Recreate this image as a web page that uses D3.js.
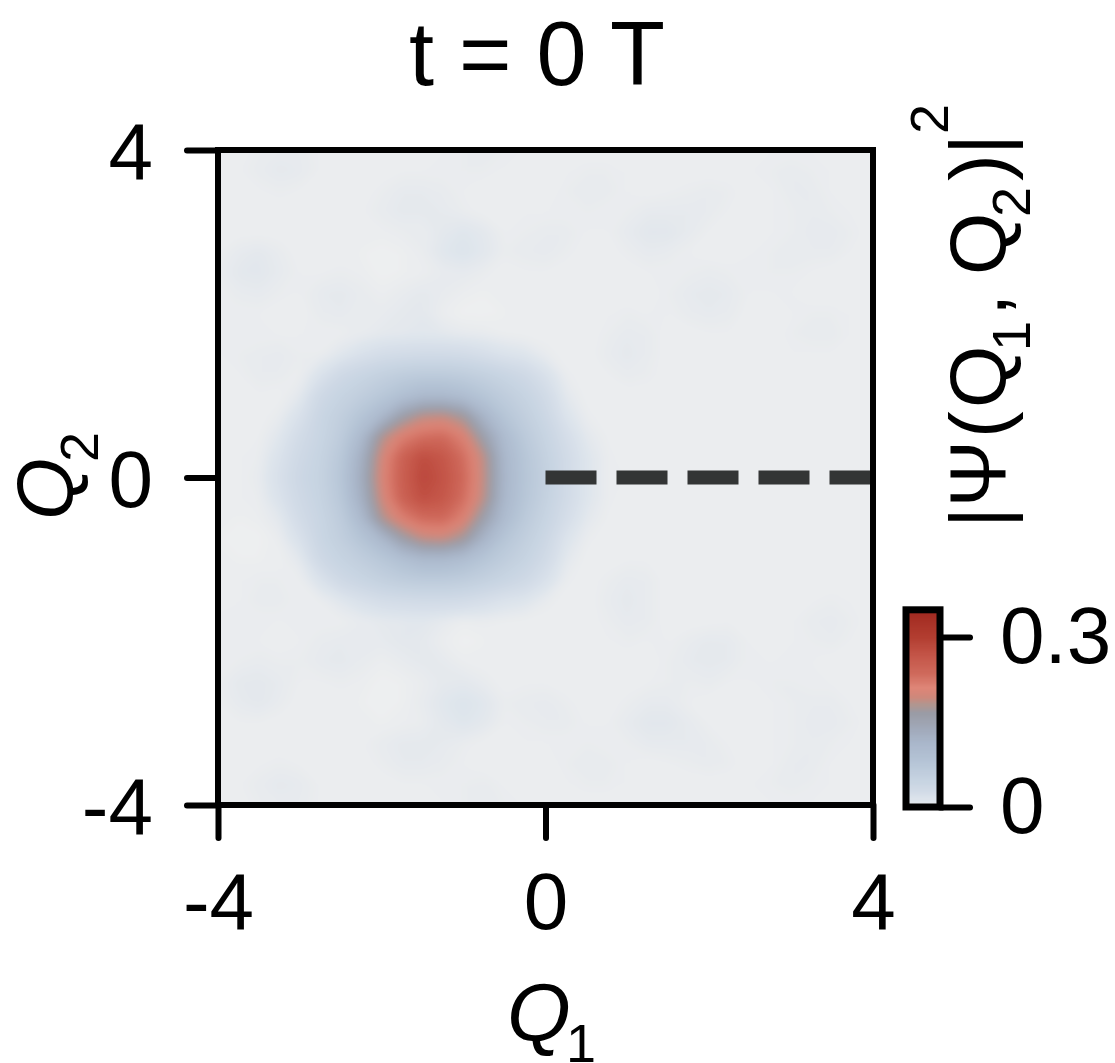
<!DOCTYPE html>
<html>
<head>
<meta charset="utf-8">
<script src="https://cdn.jsdelivr.net/npm/d3@7"></script>
<style>
  html, body { margin: 0; background: #fff; }
  text { font-family: "Liberation Sans", Arial, sans-serif; fill: #000; }
</style>
</head>
<body>
<div id="chart-container"></div>
<script>
const titleText = "t = 0 T";
const xTicks = [-4, 0, 4];
const yTicks = [-4, 0, 4];
const tickLabels = {"-4": "-4", "0": "0", "4": "4"};
const colorTicks = [0, 300];
const colorTickLabels = ["0", "0.3"];
const dashedLine = [[0, 0], [4, 0]];

// |psi|^2 x 1000, Q2 = 4 (top) down to -4, Q1 = -4 to 4, step 0.25
const density = [
  [2,2,4,5,5,3,2,2,2,2,2,3,4,5,4,3,2,2,2,2,2,2,2,2,2,2,2,3,3,3,2,2,2],
  [2,3,5,7,6,3,2,2,2,3,3,3,4,4,3,2,2,3,4,4,3,2,2,2,2,2,3,4,5,4,3,2,2],
  [2,2,3,4,3,2,2,2,4,6,6,5,3,2,2,2,2,4,5,5,3,2,3,4,5,4,2,3,5,5,3,2,2],
  [2,2,2,2,2,2,2,3,5,7,7,6,4,2,2,3,3,3,4,3,4,6,6,6,5,3,2,3,4,5,4,3,2],
  [2,2,2,2,2,2,2,2,3,4,4,8,11,8,3,4,5,5,3,3,6,9,9,6,3,2,2,3,4,6,6,4,2],
  [3,6,8,5,2,2,2,2,1,2,4,10,13,9,4,5,6,4,2,2,4,6,5,3,2,2,3,4,4,5,5,3,2],
  [4,8,9,6,3,3,4,3,1,2,3,5,6,4,2,3,3,2,2,2,2,3,3,4,5,4,3,4,4,3,2,2,2],
  [3,5,6,4,3,6,7,5,3,5,7,5,3,2,2,2,2,2,2,2,2,2,4,6,7,6,3,3,3,2,2,2,2],
  [3,3,3,2,2,5,6,4,5,7,8,3,1,1,2,2,2,2,2,3,4,3,3,5,6,5,2,2,3,4,4,3,2],
  [4,3,3,3,3,3,3,5,7,8,9,8,6,5,3,2,2,2,2,4,6,5,2,2,3,3,2,2,4,5,5,3,2],
  [3,4,5,6,4,4,10,18,25,28,30,30,28,22,15,12,5,2,2,5,7,5,2,2,2,2,2,2,3,3,3,2,2],
  [2,3,5,5,3,16,34,44,54,62,66,66,62,54,44,34,18,4,2,3,5,4,2,2,2,2,2,2,2,2,2,2,2],
  [2,2,3,2,8,34,48,60,74,90,105,105,95,78,62,48,30,8,2,2,2,2,2,2,2,2,2,2,2,2,2,2,2],
  [2,2,2,5,18,42,58,80,108,158,186,190,170,115,78,58,38,14,4,2,2,2,2,2,2,2,2,2,2,2,2,2,2],
  [2,2,3,10,28,44,64,104,178,215,232,236,212,155,100,68,46,24,8,3,2,2,2,2,2,2,2,2,2,2,2,2,2],
  [2,3,4,16,34,48,72,125,200,248,278,265,232,186,110,76,52,30,12,4,2,2,2,2,2,2,2,2,2,2,2,2,2],
  [2,3,5,20,38,50,76,132,205,252,285,270,238,188,113,78,55,30,12,4,3,2,2,2,2,2,2,2,2,2,2,2,2],
  [2,3,4,16,34,48,72,125,198,248,276,265,232,185,110,76,52,30,12,4,2,2,2,2,2,2,2,2,2,2,2,2,2],
  [2,2,3,8,28,44,64,104,178,215,236,238,212,155,100,68,46,24,8,3,2,2,2,2,2,2,2,2,2,2,2,2,2],
  [2,1,1,4,18,42,58,80,108,158,188,192,170,115,78,58,38,14,4,2,2,2,2,2,2,2,2,2,2,2,2,2,2],
  [2,2,2,2,8,34,48,60,74,90,105,105,95,78,62,48,30,8,2,2,3,3,2,2,2,2,2,2,2,2,2,2,2],
  [2,3,4,4,3,16,34,44,54,62,66,66,62,54,44,34,18,4,2,4,6,5,2,2,2,2,2,2,2,2,2,2,2],
  [2,3,5,5,3,4,10,18,25,28,30,30,28,22,15,12,5,2,2,5,7,5,2,2,2,2,2,2,2,3,4,3,2],
  [4,3,3,3,3,3,3,5,7,8,9,6,3,4,3,2,2,2,2,4,6,5,2,2,2,3,2,2,3,5,6,4,2],
  [3,3,3,2,3,5,6,5,6,8,7,3,1,2,2,2,2,2,2,3,4,3,3,5,7,6,3,2,3,4,5,3,2],
  [3,4,5,4,4,6,7,5,3,5,7,6,3,2,2,2,2,2,2,2,2,2,4,6,7,6,3,3,3,3,2,2,2],
  [4,7,8,6,3,3,4,3,1,2,4,7,8,5,2,3,3,2,2,2,2,3,4,4,5,3,3,4,4,3,3,2,2],
  [3,6,8,5,2,2,2,2,1,2,5,10,13,10,4,5,6,4,2,2,4,6,6,3,2,2,2,3,4,5,5,3,2],
  [2,3,3,2,2,2,2,2,2,3,4,8,11,8,3,4,5,5,3,3,6,9,9,6,3,2,2,3,4,6,6,4,2],
  [2,2,2,2,2,2,2,3,5,7,7,6,4,2,2,3,3,3,4,3,4,6,6,6,5,3,2,3,4,5,4,3,2],
  [2,2,3,4,3,2,2,2,4,6,6,5,3,2,2,2,2,4,5,5,3,2,3,4,5,4,2,3,5,5,3,2,2],
  [2,3,5,7,6,3,2,2,2,3,3,3,4,5,3,2,2,3,4,4,3,2,2,2,2,2,3,4,5,4,3,2,2],
  [2,2,4,5,5,3,2,2,2,2,2,3,4,5,4,3,2,2,2,2,2,2,2,2,2,2,2,3,3,3,2,2,2]
];

const colorStops = [0, 1, 2, 6, 12, 30, 48, 80, 114, 140, 165, 180, 195, 210, 235, 264, 300, 348];
const colorValues = ["#eef0f1", "#edeff0", "#ebedef", "#e5e9ed", "#dde4ec", "#d0dae6", "#c6d3e1", "#b5c4d6", "#a9b6ca", "#a0a8b8", "#9a9ba5",
  "#b09690", "#d0877a", "#de8577", "#cf6a5c", "#c5574a", "#b23d30", "#a0281f"];

const svg = d3.select("#chart-container").append("svg")
  .attr("width", 1115)
  .attr("height", 1063);

const x = d3.scaleLinear().domain([-4, 4]).range([218, 873]);
const y = d3.scaleLinear().domain([-4, 4]).range([805, 150]);
const color = d3.scaleLinear().domain(colorStops).range(colorValues).clamp(true);

const defs = svg.append("defs");
defs.append("clipPath").attr("id", "plot-clip").append("rect")
  .attr("x", x(-4)).attr("y", y(4))
  .attr("width", x(4) - x(-4)).attr("height", y(-4) - y(4));
defs.append("filter").attr("id", "soften")
  .attr("x", "-5%").attr("y", "-5%").attr("width", "110%").attr("height", "110%")
  .append("feGaussianBlur").attr("stdDeviation", 4);

// heat map as stacked filled contours
const nCols = density[0].length, nRows = density.length;
const levels = d3.range(1, 30, 1).concat(d3.range(30, 340, 2));
const contours = d3.contours().size([nCols, nRows]).thresholds(levels)(density.flat());
const step = 8 / (nCols - 1);
const toPlot = d3.geoTransform({
  point(cx, cy) {
    this.stream.point(x(-4 + (cx - 0.5) * step), y(4 - (cy - 0.5) * step));
  }
});
const path = d3.geoPath(toPlot);

const plot = svg.append("g").attr("clip-path", "url(#plot-clip)");
plot.append("rect")
  .attr("x", x(-4)).attr("y", y(4))
  .attr("width", x(4) - x(-4)).attr("height", y(-4) - y(4))
  .attr("fill", color(1));
plot.append("g").attr("filter", "url(#soften)")
  .selectAll("path")
  .data(contours)
  .join("path")
    .attr("d", path)
    .attr("fill", d => color(d.value));

svg.append("path")
  .attr("d", d3.line().x(d => x(d[0])).y(d => y(d[1]))(dashedLine))
  .attr("fill", "none")
  .attr("stroke", "#333535")
  .attr("stroke-width", 14)
  .attr("stroke-dasharray", "51 20");

// frame
svg.append("rect")
  .attr("x", x(-4)).attr("y", y(4))
  .attr("width", x(4) - x(-4)).attr("height", y(-4) - y(4))
  .attr("fill", "none")
  .attr("stroke", "#000")
  .attr("stroke-width", 6);

const fmt = d => tickLabels[d];
const xAxis = svg.append("g")
  .attr("transform", `translate(0,${y(-4)})`)
  .call(d3.axisBottom(x).tickValues(xTicks).tickFormat(fmt).tickSize(33).tickPadding(34));
const yAxis = svg.append("g")
  .attr("transform", `translate(${x(-4)},0)`)
  .call(d3.axisLeft(y).tickValues(yTicks).tickFormat(fmt).tickSize(31).tickPadding(34));

[xAxis, yAxis].forEach(a => {
  a.select(".domain").remove();
  a.selectAll(".tick line").attr("stroke", "#000").attr("stroke-width", 6).attr("stroke-linecap", "round");
  a.selectAll(".tick text").style("font-family", '"Liberation Sans", Arial, sans-serif').style("font-size", "80px").attr("fill", "#000");
});
yAxis.selectAll(".tick text").attr("dy", "0.36em");

svg.append("text")
  .attr("x", 537).attr("y", 85)
  .attr("text-anchor", "middle")
  .style("font-size", "90px")
  .text(titleText);

// axis names
const xName = svg.append("text").attr("x", 507).attr("y", 1041).style("font-size", "82px");
xName.append("tspan").style("font-style", "italic").text("Q");
xName.append("tspan").attr("x", 566).attr("dy", 21).style("font-size", "54px").text("1");

const yName = svg.append("text")
  .attr("transform", "translate(73,520) rotate(-90)")
  .style("font-size", "80px");
yName.append("tspan").style("font-style", "italic").text("Q");
yName.append("tspan").attr("x", 58).attr("dy", 25).style("font-size", "54px").text("2");

// colour bar label
const zName = svg.append("text")
  .attr("transform", "translate(1006,521) rotate(-90)")
  .style("font-size", "80px");
zName.append("tspan").attr("x", -7).text("|Ψ");
zName.append("tspan").attr("x", 83).text("(");
zName.append("tspan").attr("x", 113).text("Q");
zName.append("tspan").attr("x", 170).attr("dy", 24).style("font-size", "54px").text("1");
zName.append("tspan").attr("x", 205).attr("dy", -24).text(",");
zName.append("tspan").attr("x", 246).text("Q");
zName.append("tspan").attr("x", 304).attr("dy", 24).style("font-size", "54px").text("2");
zName.append("tspan").attr("x", 340).attr("dy", -24).text(")");
zName.append("tspan").attr("x", 366).text("|");
zName.append("tspan").attr("x", 387).attr("dy", -58).style("font-size", "54px").text("2");

// colour bar
const cbar = d3.scaleLinear().domain([0, 300]).range([807, 637]);
const cbarTop = 348;
const cbarCells = d3.range(0, cbarTop, 2);
svg.append("g").attr("shape-rendering", "crispEdges").selectAll("rect")
  .data(cbarCells)
  .join("rect")
    .attr("x", 906)
    .attr("width", 34)
    .attr("y", d => cbar(d + 2))
    .attr("height", d => cbar(d) - cbar(d + 2) + 0.5)
    .attr("fill", d => color(d));
svg.append("rect")
  .attr("x", 906)
  .attr("y", cbar(cbarTop))
  .attr("width", 34)
  .attr("height", cbar(0) - cbar(cbarTop))
  .attr("fill", "none")
  .attr("stroke", "#000")
  .attr("stroke-width", 7);

const cAxis = svg.append("g")
  .attr("transform", "translate(940,0)")
  .call(d3.axisRight(cbar).tickValues(colorTicks).tickFormat((d, i) => colorTickLabels[i]).tickSize(30).tickPadding(30));
cAxis.select(".domain").remove();
cAxis.selectAll(".tick line").attr("stroke", "#000").attr("stroke-width", 6).attr("stroke-linecap", "round");
cAxis.selectAll(".tick text").style("font-family", '"Liberation Sans", Arial, sans-serif').style("font-size", "80px").attr("fill", "#000");
</script>
</body>
</html>
